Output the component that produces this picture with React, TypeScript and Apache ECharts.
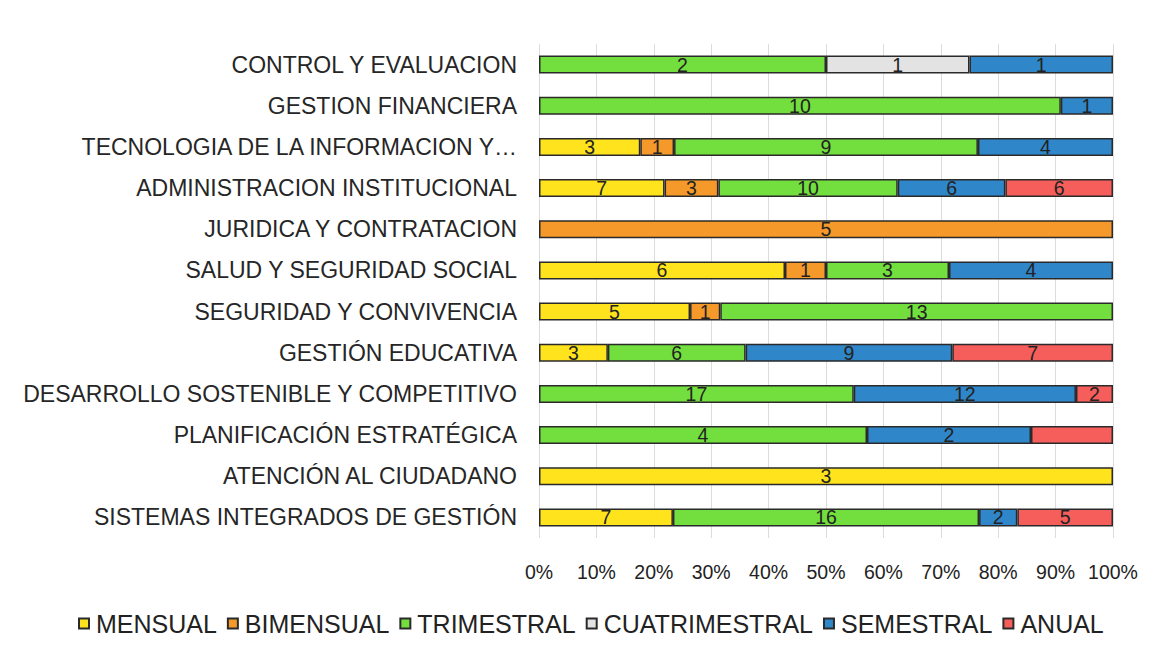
import React, { useEffect, useRef } from "react";
import * as echarts from "echarts";

const categories = [
  "CONTROL Y EVALUACION",
  "GESTION FINANCIERA",
  "TECNOLOGIA DE LA INFORMACION Y…",
  "ADMINISTRACION INSTITUCIONAL",
  "JURIDICA Y CONTRATACION",
  "SALUD Y SEGURIDAD SOCIAL",
  "SEGURIDAD Y CONVIVENCIA",
  "GESTIÓN EDUCATIVA",
  "DESARROLLO SOSTENIBLE Y COMPETITIVO",
  "PLANIFICACIÓN ESTRATÉGICA",
  "ATENCIÓN AL CIUDADANO",
  "SISTEMAS INTEGRADOS DE GESTIÓN",
];

const seriesNames = ["MENSUAL", "BIMENSUAL", "TRIMESTRAL", "CUATRIMESTRAL", "SEMESTRAL", "ANUAL"];

const mensual = [0, 0, 3, 7, 0, 6, 5, 3, 0, 0, 3, 7];
const bimensual = [0, 0, 1, 3, 5, 1, 1, 0, 0, 0, 0, 0];
const trimestral = [2, 10, 9, 10, 0, 3, 13, 6, 17, 4, 0, 16];
const cuatrimestral = [1, 0, 0, 0, 0, 0, 0, 0, 0, 0, 0, 0];
const semestral = [1, 1, 4, 6, 0, 4, 0, 9, 12, 2, 0, 2];
const anual = [0, 0, 0, 6, 0, 0, 0, 7, 2, 1, 0, 5];

// labels not printed in the reference (category index per series)
const hiddenLabels: Record<string, number[]> = { ANUAL: [9] };

const colors = ["#FFE31C", "#F59A2A", "#72DF3E", "#E3E3E3", "#2F86C8", "#F65E5C"];

const xTicks = [0, 10, 20, 30, 40, 50, 60, 70, 80, 90, 100];

export default function App() {
  const ref = useRef<HTMLDivElement>(null);
  useEffect(() => {
    if (!ref.current) return;
    const chart = echarts.init(ref.current, undefined, { renderer: "svg" });
    const counts = [mensual, bimensual, trimestral, cuatrimestral, semestral, anual];
    const totals = categories.map((_, i) => counts.reduce((s, arr) => s + arr[i], 0));
    const series = seriesNames.map((name, si) => ({
      name,
      type: "bar",
      stack: "total",
      barWidth: 18,
      itemStyle: { color: colors[si], borderColor: "#2a2a2a", borderWidth: 1.5 },
      label: {
        show: true,
        position: "inside",
        color: "#222",
        fontSize: 19.5,
        formatter: (p: any) => String(counts[si][p.dataIndex]),
      },
      data: counts[si].map((v, i) => {
        if (!v) return "-";
        const pct = (v / totals[i]) * 100;
        if ((hiddenLabels[name] || []).includes(i)) return { value: pct, label: { show: false } };
        return pct;
      }),
    }));
    chart.setOption({
      animation: false,
      backgroundColor: "#ffffff",
      textStyle: { fontFamily: "'Liberation Sans', Arial, sans-serif" },
      grid: { left: 539, right: 54, top: 44, height: 494, containLabel: false },
      xAxis: {
        type: "value",
        min: xTicks[0],
        max: xTicks[xTicks.length - 1],
        interval: 10,
        axisLine: { show: false },
        axisTick: { show: false },
        splitLine: { show: true, lineStyle: { color: "#dcdcdc", width: 1 } },
        axisLabel: {
          color: "#222",
          fontSize: 19.5,
          margin: 24,
          formatter: (v: number) => `${v}%`,
        },
      },
      yAxis: {
        type: "category",
        inverse: true,
        data: categories,
        axisLine: { show: false },
        axisTick: { show: false },
        axisLabel: { color: "#262626", fontSize: 23, margin: 22 },
      },
      legend: {
        data: seriesNames,
        left: 73,
        top: 606,
        icon: "rect",
        itemWidth: 10,
        itemHeight: 10,
        itemGap: 10,
        textStyle: { color: "#222", fontSize: 25, padding: [0, 0, 0, 2] },
      },
      series,
    });
    return () => chart.dispose();
  }, []);
  return (
    <div
      ref={ref}
      style={{ position: "fixed", left: 0, top: 0, width: 1167, height: 653 }}
    />
  );
}
